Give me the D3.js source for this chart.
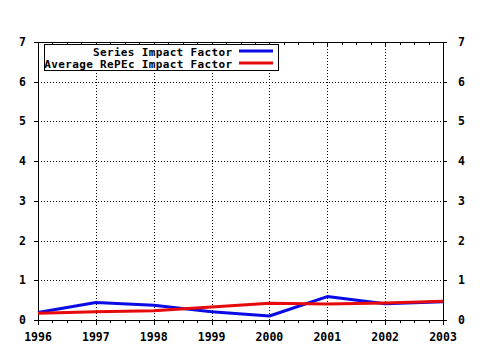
<!DOCTYPE html>
<html><head><meta charset="utf-8">
<script src="https://cdn.jsdelivr.net/npm/d3@7"></script>
<style>body{margin:0;background:#fff}svg{display:block}</style>
</head><body>
<script>
const years = [1996,1997,1998,1999,2000,2001,2002,2003];
const seriesIF = [0.19,0.44,0.37,0.21,0.10,0.59,0.41,0.46];
const averageIF = [0.17,0.21,0.23,0.33,0.42,0.40,0.43,0.47];
const yTicks = [0,1,2,3,4,5,6,7];
const legendLabels = ["Series Impact Factor","Average RePEc Impact Factor"];
const colors = ["#0a0ae6","#e60a0a"];

const W=480,H=350;
const svg=d3.select("body").append("svg").attr("width",W).attr("height",H);
const x=d3.scaleLinear().domain([1996,2003]).range([38,443]);
const y=d3.scaleLinear().domain([0,7]).range([320,42]);
const font="'DejaVu Sans Mono', monospace";

// grid
const g=svg.append("g");
g.selectAll(".vg").data(years.slice(1,-1)).join("line")
 .attr("x1",d=>Math.round(x(d))+0.5).attr("x2",d=>Math.round(x(d))+0.5).attr("y1",y(0)).attr("y2",y(7))
 .attr("stroke","#000").attr("stroke-dasharray","1,2").attr("stroke-width",1);
g.selectAll(".hg").data(yTicks.slice(1,-1)).join("line")
 .attr("x1",x(1996)).attr("x2",x(2003)).attr("y1",d=>Math.round(y(d))+0.5).attr("y2",d=>Math.round(y(d))+0.5)
 .attr("stroke","#000").attr("stroke-dasharray","1,2").attr("stroke-width",1);

// frame
svg.append("rect").attr("x",x(1996)+0.5).attr("y",y(7)+0.5)
 .attr("width",x(2003)-x(1996)).attr("height",y(0)-y(7))
 .attr("fill","none").attr("stroke","#000");

// x minor ticks
const minor=d3.range(0,29).map(i=>1996+i/4);
svg.selectAll(".mt").data(minor).join("line")
 .attr("x1",d=>Math.round(x(d))+0.5).attr("x2",d=>Math.round(x(d))+0.5)
 .attr("y1",y(0)).attr("y2",d=>y(0)+(Number.isInteger(d)?5:3))
 .attr("stroke","#000");
svg.selectAll(".mtt").data(minor).join("line")
 .attr("x1",d=>Math.round(x(d))+0.5).attr("x2",d=>Math.round(x(d))+0.5)
 .attr("y1",y(7)).attr("y2",d=>y(7)+(Number.isInteger(d)?5:3))
 .attr("stroke","#000");

// y ticks
svg.selectAll(".yt").data(yTicks).join("line")
 .attr("x1",x(1996)-4).attr("x2",x(1996)).attr("y1",d=>Math.round(y(d))+0.5).attr("y2",d=>Math.round(y(d))+0.5).attr("stroke","#000");
svg.selectAll(".yt2").data(yTicks).join("line")
 .attr("x1",x(2003)).attr("x2",x(2003)+4).attr("y1",d=>Math.round(y(d))+0.5).attr("y2",d=>Math.round(y(d))+0.5).attr("stroke","#000");

// labels
svg.selectAll(".yl").data(yTicks).join("text")
 .attr("x",26).attr("y",d=>y(d)+4).attr("text-anchor","end")
 .attr("font-family",font).attr("font-weight","bold").attr("font-size","11.5px").text(d=>d);
svg.selectAll(".yr").data(yTicks).join("text")
 .attr("x",458).attr("y",d=>y(d)+4).attr("text-anchor","start")
 .attr("font-family",font).attr("font-weight","bold").attr("font-size","11.5px").text(d=>d);
svg.selectAll(".xl").data(years).join("text")
 .attr("x",d=>x(d)).attr("y",341).attr("text-anchor","middle")
 .attr("font-family",font).attr("font-weight","bold").attr("font-size","11.5px").text(d=>d);

// lines
const line=d3.line().x((d,i)=>x(years[i])).y(d=>y(d));
[seriesIF,averageIF].forEach((s,k)=>{
 svg.append("path").datum(s).attr("d",line).attr("fill","none")
  .attr("stroke",colors[k]).attr("stroke-width",3).attr("stroke-linejoin","round");
});

// legend
svg.append("rect").attr("x",44.5).attr("y",44.5).attr("width",234).attr("height",26)
 .attr("fill","#fff").attr("stroke","#000");
legendLabels.forEach((t,k)=>{
 const yy=[51,63][k];
 svg.append("text").attr("x",232).attr("y",yy+4.5).attr("text-anchor","end")
  .attr("font-family",font).attr("font-weight","bold").attr("font-size","11px")
  .attr("textLength",t.length*6.95).attr("lengthAdjust","spacing").text(t);
 svg.append("line").attr("x1",239).attr("x2",273).attr("y1",yy).attr("y2",yy)
  .attr("stroke",colors[k]).attr("stroke-width",3);
});
</script>
</body></html>
